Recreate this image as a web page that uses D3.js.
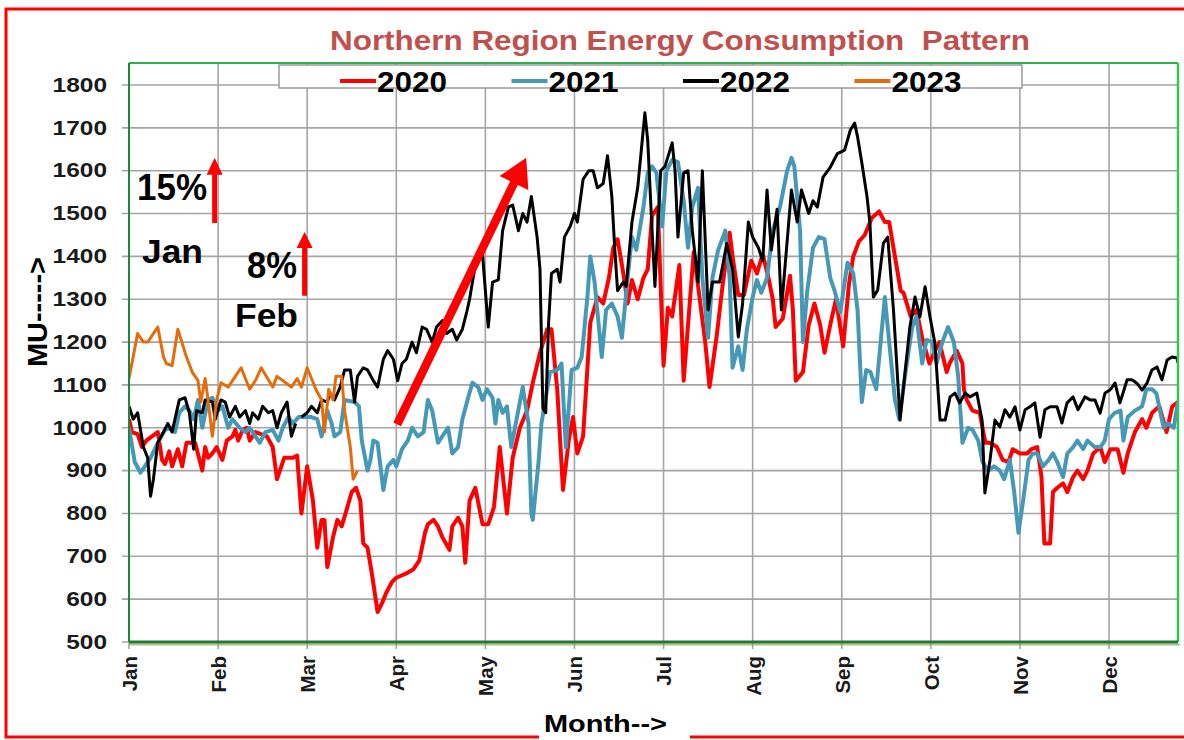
<!DOCTYPE html>
<html>
<head>
<meta charset="utf-8">
<script src="https://cdn.jsdelivr.net/npm/d3@7/dist/d3.min.js"></script>
<style>
    body { margin: 0; background: #fff; }
    text { font-family: Arial, "Liberation Sans", sans-serif; font-weight: bold; }
</style>
</head>
<body>
<div id="chart"></div>
<script>
// tick labels
var months = ["Jan", "Feb", "Mar", "Apr", "May", "Jun", "Jul", "Aug", "Sep", "Oct", "Nov", "Dec"];
var monthDays = [0, 31, 62, 93, 124, 155, 186, 217, 248, 279, 310, 341];
var muTicks = [500, 600, 700, 800, 900, 1000, 1100, 1200, 1300, 1400, 1500, 1600, 1700, 1800];

var years = ["2020", "2021", "2022", "2023"];
var colors = ["#ff0000", "#4699b6", "#000000", "#e46c0a"];

// [day of year, MU]
var nr2020 = [[0,1020],[1,990],[3,985],[4.5,955],[6,970],[10,990],[11.5,925],[12.5,915],[14,945],[15,910],[17,950],[18.5,910],[20,965],[23,965],[25.5,900],[26.5,955],[27.5,930],[29,940],[30.5,955],[32.5,925],[34,970],[36,980],[37,995],[38,970],[39.5,995],[41,1000],[42,970],[44,990],[48,980],[50,955],[51.5,880],[54,930],[57,930],[58.5,935],[60,800],[62,910],[64,830],[65.5,720],[67,785],[68,785],[69,675],[71,745],[72.5,785],[74,770],[76,815],[77.5,850],[79,860],[80.5,830],[81.5,730],[83,720],[84.5,660],[86.5,570],[88,590],[89.5,615],[91.5,640],[93,650],[96.5,660],[99,670],[101,690],[103,755],[104,775],[106,785],[107.5,770],[109,745],[111.5,715],[112.5,770],[114.5,790],[116,770],[117,685],[118.5,830],[120.5,860],[123,775],[125,775],[127,815],[129,955],[131.5,800],[133.5,930],[136,1000],[138.5,1040],[140.5,1105],[143,1175],[145.5,1230],[147,1230],[149,1090],[151,855],[153,970],[154.5,1025],[156,940],[158,980],[160.5,1245],[163,1305],[165,1290],[167,1350],[168.5,1420],[170,1440],[172,1360],[173.5,1290],[175,1345],[177,1300],[179,1350],[180.5,1370],[182,1495],[184,1515],[186,1145],[187.5,1280],[189,1260],[191.5,1380],[193,1110],[196.5,1410],[200.5,1200],[202,1095],[204.5,1215],[206.5,1330],[209,1455],[210,1400],[212,1310],[214,1310],[216.5,1390],[218.5,1360],[220.5,1405],[222.5,1350],[224,1300],[225,1235],[227.5,1255],[230,1355],[231,1275],[232,1110],[234.5,1130],[236.5,1240],[238.5,1290],[240.5,1240],[242,1175],[244,1240],[246,1300],[248.5,1190],[250.5,1335],[252,1400],[254,1435],[256,1450],[258.5,1490],[261,1505],[263,1480],[264.5,1480],[266.5,1400],[268.5,1320],[269.5,1315],[272,1260],[274,1275],[276,1210],[278.5,1150],[280.5,1180],[282,1200],[284.5,1130],[285.5,1150],[288,1180],[290,1150],[290.5,1090],[291.5,1065],[293.5,1040],[296,1035],[298,965],[299.5,965],[302,955],[304,925],[306,920],[307.5,950],[310,940],[312.5,940],[314,950],[316,955],[317.5,885],[318.5,730],[320.5,730],[321.5,850],[323,860],[325,870],[326.5,850],[328.5,885],[330,900],[332,880],[333.5,900],[335.5,940],[338,955],[339.5,920],[341.5,950],[344,950],[346,895],[347.5,940],[350,990],[352.5,1020],[354,1000],[356,1035],[358.5,1050],[361,990],[363,1050],[365,1060]];

var nr2021 = [[0,1000],[2,920],[4,895],[5.5,910],[7.5,930],[10,965],[12.5,995],[15,1000],[16,990],[17.5,1035],[19.5,1050],[21,1040],[22.5,1020],[24,1065],[25.5,1000],[27.5,1065],[29,1070],[31,1040],[32.5,1050],[34.5,1000],[36,1020],[38.5,1000],[40.5,990],[42,1000],[44,980],[45.5,965],[47.5,990],[50,995],[52,970],[53.5,1000],[55.5,1025],[57,1010],[59,1025],[60.5,1025],[63.5,1025],[65.5,1020],[67,980],[69,1040],[70.5,1010],[71.5,980],[73.5,990],[75,1065],[78.5,1060],[80,1050],[81,970],[83,900],[84,925],[85,970],[86.5,965],[88.5,855],[90,910],[92,925],[93,910],[95,950],[97,970],[98.5,1000],[100.5,980],[102.5,990],[104,1065],[105.5,1040],[107.5,965],[109,980],[111,1000],[112.5,940],[114.5,955],[116,1020],[118,1070],[119.5,1105],[121.5,1095],[123,1065],[124.5,1090],[126.5,1070],[127.5,1010],[128.5,1065],[130,1035],[131.5,1050],[133,955],[135,1025],[137,1095],[139,1010],[140,800],[140.5,785],[142.5,920],[143.5,1010],[146.5,1130],[149,1135],[150.5,1150],[152,955],[154,1135],[156,1140],[157.5,1165],[159.5,1305],[160.5,1400],[162,1340],[164.5,1165],[166,1275],[168,1290],[170,1260],[171.5,1210],[173.5,1350],[175,1445],[176.5,1415],[179,1515],[180.5,1595],[182,1610],[183.5,1595],[185.5,1470],[187,1600],[189,1625],[191,1620],[193,1530],[194.5,1420],[196,1515],[198,1560],[199.5,1350],[201.5,1210],[203,1350],[205,1415],[207.5,1460],[209,1350],[210,1140],[212,1190],[213.5,1135],[215,1230],[217,1305],[218.5,1345],[220,1315],[222,1350],[224,1460],[226.5,1515],[229,1600],[230.5,1630],[231.5,1610],[233.5,1460],[234.5,1200],[236,1320],[238,1420],[240,1445],[242,1440],[244,1350],[245.5,1320],[247.5,1270],[250,1385],[252,1360],[253.5,1275],[255,1060],[256.5,1135],[258,1130],[260,1090],[263,1305],[264,1235],[266.5,1065],[268,1020],[270,1120],[272.5,1235],[274,1260],[276,1150],[277.5,1205],[279.5,1200],[281,1150],[283,1200],[285,1235],[287,1200],[288.5,1120],[290,965],[292,1000],[293.5,995],[295.5,970],[297,920],[299,900],[301,910],[303,900],[304.5,880],[306.5,925],[308,850],[309.5,755],[311,825],[313,925],[314.5,940],[316,940],[318,910],[320,925],[321.5,940],[323,920],[325,885],[326.5,940],[328.5,955],[330,970],[332,950],[333.5,970],[336,955],[338,955],[339.5,970],[341,1020],[343,1035],[345,1040],[346,970],[347.5,1025],[350,1040],[352.5,1050],[354,1090],[356,1090],[357.5,1080],[360,1000],[361.5,1010],[363.5,1000],[365,1060]];

var nr2022 = [[0,1050],[1.5,1020],[3,1035],[5,955],[6.5,930],[7.5,840],[8.5,880],[10,965],[12,990],[13.5,1010],[15,990],[16,1020],[17.5,1065],[19.5,1070],[21,1035],[22.5,950],[23.5,1040],[25.5,1035],[26.5,1065],[29,1060],[30,1020],[32,1065],[33.5,1060],[35,1025],[37,1050],[38.5,1025],[40.5,1040],[42,1010],[43,1035],[45,1020],[46.5,1050],[48.5,1035],[50,1040],[51.5,1000],[53,1035],[55,1060],[56.5,980],[58,1010],[59,null],[60,1025],[62,1035],[63.5,1050],[65.5,1035],[67,1065],[69,1060],[70,1080],[71.5,1065],[73.5,1095],[75,1135],[77,1135],[78.5,1060],[79.5,1120],[81.5,1140],[83,1135],[85,1110],[86.5,1095],[88.5,1160],[90,1180],[92,1160],[93.5,1110],[95,1150],[96.5,1160],[98.5,1200],[100,1175],[102,1235],[103.5,1230],[105.5,1200],[107,1235],[109,1250],[110.5,1220],[112.5,1230],[114,1205],[116,1230],[117.5,1270],[118.5,1300],[121,1400],[123,1405],[125,1235],[126.5,1340],[128.5,1345],[130,1460],[132,1515],[133.5,1520],[135.5,1460],[137,1500],[138.5,1480],[140,1540],[142,1445],[143,1370],[144,1045],[145,1035],[146,1245],[147,1360],[149,1370],[150,1340],[151.5,1445],[153.5,1470],[155,1500],[156,1480],[158,1580],[160,1600],[161.5,1600],[163,1560],[165,1570],[166.5,1635],[168,1540],[169,1420],[170,1320],[172,1340],[173,1330],[175,1480],[177,1560],[178,1630],[179.5,1735],[180.5,1670],[182,1460],[183,1330],[185,1600],[186.5,1610],[189,1665],[190,1600],[191,1445],[193,1595],[194.5,1600],[196,1460],[198,1340],[199.5,1600],[201.5,1275],[203,1340],[205.5,1340],[208,1430],[210,1370],[212,1212],[213.5,1290],[215.5,1480],[217,1445],[219,1420],[220.5,1390],[222,1555],[223.5,1415],[225.5,1510],[227,1275],[230.5,1555],[232.5,1480],[234,1555],[236.5,1500],[238,1530],[239.5,1515],[241.5,1585],[244,1608],[246.5,1640],[249,1648],[251,1695],[252.5,1711],[253.5,1679],[255,1618],[256.8,1539],[257.8,1478],[259,1305],[260.5,1321],[262.5,1431],[264,1445],[266,1275],[268.3,1018],[270,1128],[271.7,1235],[273.5,1305],[275.2,1259],[277,1329],[278.7,1259],[280.4,1198],[282.2,1018],[284,1018],[285.7,1072],[287.4,1081],[289,1058],[291,1081],[292.6,1072],[295,1081],[296.8,1018],[297.8,848],[299.6,925],[301.3,1018],[303,1002],[304.8,1042],[306.5,1025],[308.3,1049],[310,995],[311.8,1042],[313.5,1049],[315.2,1058],[317,978],[318.7,1042],[320.5,1049],[322.9,1049],[324.6,1011],[326.4,1058],[328.5,1072],[330.2,1042],[332.6,1072],[334.4,1065],[336.1,1065],[337.9,1034],[339.6,1081],[341.3,1088],[343.1,1104],[344.8,1058],[347.3,1112],[349,1112],[350.7,1104],[352.5,1088],[354.2,1104],[355.9,1135],[357.7,1142],[359.4,1112],[361.2,1158],[362.9,1165],[364.7,1163],[365,1151]];

var nr2023 = [[0,1115],[3,1220],[5,1200],[6.5,1200],[10,1235],[12,1165],[13,1150],[15,1145],[17,1230],[20,1165],[22,1130],[24,1110],[25,1060],[26.5,1115],[27.5,1065],[29,980],[30.5,1065],[32,1105],[34.5,1095],[37,1120],[39,1140],[42,1090],[44,1110],[46,1140],[50,1095],[51.5,1120],[56.5,1095],[58.5,1115],[60,1095],[62,1140],[65,1090],[67,1065],[68,990],[69.5,1090],[71,1065],[72,1120],[74,1120],[75,1040],[77,955],[78,880],[79.5,900]];

var seriesData = [nr2020, nr2021, nr2022, nr2023];
var lineWidths = [4, 4, 3, 3];

var width = 1184, height = 740;
var plotTop = 63;

var svg = d3.select("#chart")
    .append("svg")
    .attr("width", width)
    .attr("height", height);

svg.append("rect").attr("width", width).attr("height", height).attr("fill", "#fff");

// red outer frame
svg.append("rect")
    .attr("x", 6).attr("y", 9)
    .attr("width", 1220).attr("height", 728)
    .attr("fill", "none")
    .attr("stroke", "#ff0000")
    .attr("stroke-width", 3);

var x = d3.scaleLinear().domain([0, 365]).range([129, 1178]);
var y = d3.scaleLinear().domain([500, 1800]).range([642, 85]);

// grid
svg.append("g")
    .selectAll("line")
    .data(muTicks)
    .enter()
    .append("line")
    .attr("x1", x(0) - 7).attr("x2", x(365))
    .attr("y1", function (d) { return y(d); })
    .attr("y2", function (d) { return y(d); })
    .attr("stroke", "#a5a5a5")
    .attr("stroke-width", 1.6);

svg.append("g")
    .selectAll("line")
    .data(monthDays)
    .enter()
    .append("line")
    .attr("x1", function (d) { return x(d); })
    .attr("x2", function (d) { return x(d); })
    .attr("y1", plotTop).attr("y2", y(500) + 7)
    .attr("stroke", "#a5a5a5")
    .attr("stroke-width", 1.6);

// Y axis labels
var yAxis = svg.append("g")
    .attr("transform", "translate(" + x(0) + ",0)")
    .call(d3.axisLeft(y).tickValues(muTicks).tickSize(0).tickPadding(22).tickFormat(d3.format("d")));
yAxis.select(".domain").remove();
yAxis.selectAll("text")
    .style("font-size", "19.5px")
    .attr("fill", "#1a1a1a")
    .attr("textLength", function (d) { return String(d).length * 13.6; })
    .attr("lengthAdjust", "spacingAndGlyphs");

// X axis labels, rotated
var xAxis = svg.append("g")
    .attr("transform", "translate(0," + y(500) + ")")
    .call(d3.axisBottom(x).tickValues(monthDays).tickSize(0)
        .tickFormat(function (d, i) { return months[i]; }));
xAxis.select(".domain").remove();
xAxis.selectAll("text")
    .attr("transform", "rotate(-90)")
    .attr("x", -14).attr("y", 0).attr("dy", "0.36em")
    .style("text-anchor", "end")
    .style("font-size", "20.5px")
    .attr("fill", "#1a1a1a");

// series lines
svg.append("clipPath").attr("id", "plotclip")
    .append("rect")
    .attr("x", x(0)).attr("y", plotTop)
    .attr("width", x(365) - x(0)).attr("height", y(500) - plotTop);

var line = d3.line()
    .defined(function (d) { return d[1] !== null; })
    .x(function (d) { return x(d[0]); })
    .y(function (d) { return y(d[1]); });

svg.append("g")
    .attr("clip-path", "url(#plotclip)")
    .selectAll("path")
    .data(seriesData)
    .enter()
    .append("path")
    .attr("d", line)
    .attr("fill", "none")
    .attr("stroke", function (d, i) { return colors[i]; })
    .attr("stroke-width", function (d, i) { return lineWidths[i]; })
    .attr("stroke-linejoin", "round");

// plot frame (green)
svg.append("line").attr("x1", x(0)).attr("x2", x(365)).attr("y1", plotTop).attr("y2", plotTop)
    .attr("stroke", "#2fae4e").attr("stroke-width", 2);
svg.append("line").attr("x1", x(0)).attr("x2", x(0)).attr("y1", plotTop).attr("y2", y(500))
    .attr("stroke", "#178a3c").attr("stroke-width", 2);
svg.append("line").attr("x1", x(365)).attr("x2", x(365)).attr("y1", plotTop).attr("y2", y(500))
    .attr("stroke", "#33c45a").attr("stroke-width", 2.5);
svg.append("line").attr("x1", x(0)).attr("x2", x(365) + 2).attr("y1", y(500) + 2.5).attr("y2", y(500) + 2.5)
    .attr("stroke", "#8fa45c").attr("stroke-width", 2).attr("opacity", 0.7);
svg.append("line").attr("x1", x(0)).attr("x2", x(365)).attr("y1", y(500)).attr("y2", y(500))
    .attr("stroke", "#1c7c35").attr("stroke-width", 3);

// title
svg.append("text")
    .attr("x", 680).attr("y", 50)
    .attr("text-anchor", "middle")
    .attr("fill", "#c0504d")
    .style("font-size", "27px")
    .style("white-space", "pre")
    .attr("textLength", 700)
    .attr("lengthAdjust", "spacingAndGlyphs")
    .text("Northern Region Energy Consumption  Pattern");

// legend
svg.append("rect")
    .attr("x", 279).attr("y", 65)
    .attr("width", 743).attr("height", 23)
    .attr("fill", "#fff")
    .attr("stroke", "#8c8c8c")
    .attr("stroke-width", 1.3);

var legend = svg.selectAll("g.leg")
    .data(years)
    .enter()
    .append("g")
    .attr("class", "leg")
    .attr("transform", function (d, i) { return "translate(" + (340 + i * 171.5) + ",0)"; });
legend.append("line")
    .attr("x1", 0).attr("x2", 36).attr("y1", 81).attr("y2", 81)
    .attr("stroke", function (d, i) { return colors[i]; })
    .attr("stroke-width", 4);
legend.append("text")
    .attr("x", 37).attr("y", 92)
    .style("font-size", "30px")
    .attr("fill", "#000")
    .attr("textLength", 70)
    .attr("lengthAdjust", "spacingAndGlyphs")
    .text(function (d) { return d; });

// axis titles
svg.append("text")
    .attr("transform", "translate(37,312)rotate(-90)")
    .attr("text-anchor", "middle")
    .attr("dy", "0.36em")
    .style("font-size", "27px")
    .attr("textLength", 110)
    .attr("lengthAdjust", "spacingAndGlyphs")
    .text("MU----->");

svg.append("rect")
    .attr("x", 539).attr("y", 726)
    .attr("width", 151).attr("height", 14)
    .attr("fill", "#fff");
svg.append("text")
    .attr("x", 544).attr("y", 732)
    .style("font-size", "24px")
    .attr("textLength", 123)
    .attr("lengthAdjust", "spacingAndGlyphs")
    .text("Month-->");

// annotations
function arrow(x1, y1, x2, y2, shaft, headL, headW) {
    var dx = x2 - x1, dy = y2 - y1;
    var len = Math.sqrt(dx * dx + dy * dy);
    var ux = dx / len, uy = dy / len;
    var nx = -uy, ny = ux;
    var bx = x2 - ux * headL, by = y2 - uy * headL;
    var pts = [
        [x1 + nx * shaft / 2, y1 + ny * shaft / 2],
        [bx + nx * shaft / 2, by + ny * shaft / 2],
        [bx + nx * headW / 2, by + ny * headW / 2],
        [x2, y2],
        [bx - nx * headW / 2, by - ny * headW / 2],
        [bx - nx * shaft / 2, by - ny * shaft / 2],
        [x1 - nx * shaft / 2, y1 - ny * shaft / 2]
    ];
    svg.append("path")
        .attr("d", "M" + pts.join("L") + "Z")
        .attr("fill", "#ff0000");
}

arrow(x(29.8), y(1478), x(29.8), y(1630), 5, 17, 16);
arrow(x(61.1), y(1308), x(61.1), y(1457), 5, 16, 16);
arrow(x(93.3), y(1008), x(138.2), y(1630), 8.5, 28, 32);

var notes = [
    { t: "15%", x: 137, y: 200, s: 36, w: 70 },
    { t: "Jan", x: 142, y: 263, s: 33, w: 61 },
    { t: "8%", x: 247, y: 278, s: 36, w: 50 },
    { t: "Feb", x: 235, y: 327, s: 34, w: 63 }
];
svg.selectAll("text.note")
    .data(notes)
    .enter()
    .append("text")
    .attr("class", "note")
    .attr("x", function (d) { return d.x; })
    .attr("y", function (d) { return d.y; })
    .style("font-size", function (d) { return d.s + "px"; })
    .attr("textLength", function (d) { return d.w; })
    .attr("lengthAdjust", "spacingAndGlyphs")
    .text(function (d) { return d.t; });
</script>
</body>
</html>
